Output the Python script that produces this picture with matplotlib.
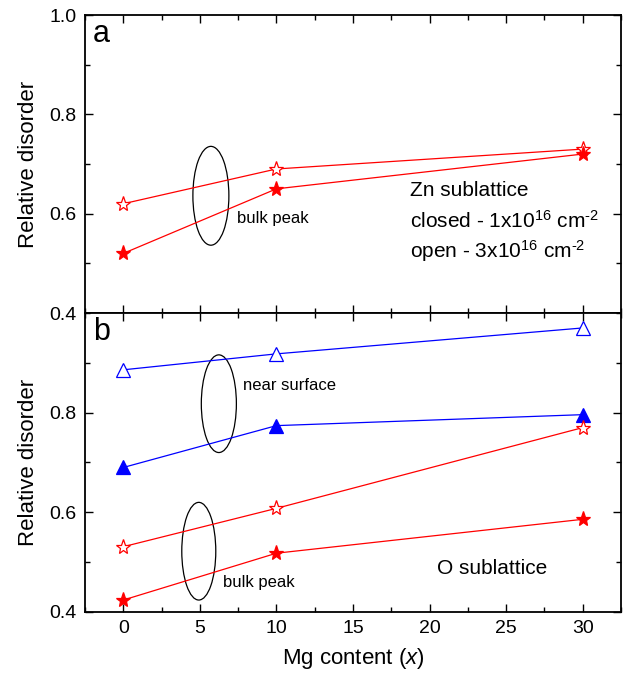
import matplotlib
matplotlib.use("Agg")
import matplotlib.pyplot as plt
from matplotlib.patches import Ellipse
from matplotlib.ticker import MultipleLocator

plt.rcParams["font.family"] = ["Liberation Sans", "DejaVu Sans"]
plt.rcParams["mathtext.fontset"] = "custom"
plt.rcParams["mathtext.rm"] = "Liberation Sans"
plt.rcParams["mathtext.it"] = "Liberation Sans:italic"

# Mg content
mg = [0, 10, 30]

# panel a: Zn sublattice, bulk peak
zn_closed = [0.52, 0.65, 0.72]
zn_open = [0.62, 0.69, 0.73]

# panel b: O sublattice
o_surf_open = [0.886, 0.918, 0.97]
o_surf_closed = [0.69, 0.774, 0.796]
o_bulk_open = [0.531, 0.608, 0.77]
o_bulk_closed = [0.424, 0.518, 0.586]

red = "#ff0000"
blue = "#0000ff"

fig = plt.figure(figsize=(6.27, 6.82), dpi=100)
L, R = 85 / 627, 621 / 627
ax_a = fig.add_axes([L, 1 - 313 / 682, R - L, (313 - 15) / 682])
ax_b = fig.add_axes([L, 1 - 612 / 682, R - L, (612 - 313) / 682])


def series(ax, y, color, marker, filled, ms):
    ax.plot(mg, y, color=color, linewidth=0.9, marker=marker, markersize=ms,
            markerfacecolor=color if filled else "white",
            markeredgecolor=color, markeredgewidth=0.9, zorder=3)


series(ax_a, zn_open, red, "*", False, 11)
series(ax_a, zn_closed, red, "*", True, 11)

series(ax_b, o_surf_open, blue, "^", False, 10)
series(ax_b, o_surf_closed, blue, "^", True, 10)
series(ax_b, o_bulk_open, red, "*", False, 11)
series(ax_b, o_bulk_closed, red, "*", True, 11)

for ax in (ax_a, ax_b):
    ax.set_xlim(-2.5, 32.5)
    ax.set_ylim(0.4, 1.0)
    ax.xaxis.set_major_locator(MultipleLocator(5))
    ax.xaxis.set_minor_locator(MultipleLocator(2.5))
    ax.yaxis.set_major_locator(MultipleLocator(0.2))
    ax.yaxis.set_minor_locator(MultipleLocator(0.1))
    ax.tick_params(which="both", direction="in", top=True, right=True,
                   width=1.0, labelsize=14, pad=6)
    ax.tick_params(which="major", length=6)
    ax.tick_params(which="minor", length=3.5)
    for sp in ax.spines.values():
        sp.set_linewidth(1.3)
    ax.set_ylabel("Relative disorder", fontsize=16)
    ax.yaxis.set_label_coords(-0.085, 0.5)

ax_a.tick_params(labelbottom=False)
ax_a.set_yticks([0.4, 0.6, 0.8, 1.0])
ax_b.set_yticks([0.4, 0.6, 0.8])
ax_b.set_xlabel("Mg content ($\\mathit{x}$)", fontsize=16, labelpad=6)

ax_a.text(0.015, 0.985, "a", transform=ax_a.transAxes, fontsize=22,
          ha="left", va="top")
ax_b.text(0.015, 0.985, "b", transform=ax_b.transAxes, fontsize=22,
          ha="left", va="top")

# annotations panel a
ax_a.add_patch(Ellipse((5.72, 0.636), 2.35, 0.199, fill=False,
                       edgecolor="black", linewidth=0.9))
ax_a.text(7.4, 0.591, "bulk peak", fontsize=12, va="center")
ax_a.text(18.75, 0.646, "Zn sublattice", fontsize=15, va="center")
ax_a.text(18.75, 0.586, "closed - 1x10$^{16}$ cm$^{\\text{-2}}$",
          fontsize=15, va="center")
ax_a.text(18.75, 0.524, "open - 3x10$^{16}$ cm$^{\\text{-2}}$",
          fontsize=15, va="center")

# annotations panel b
ax_b.add_patch(Ellipse((6.24, 0.818), 2.29, 0.196, fill=False,
                       edgecolor="black", linewidth=0.9))
ax_b.add_patch(Ellipse((4.93, 0.522), 2.22, 0.196, fill=False,
                       edgecolor="black", linewidth=0.9))
ax_b.text(7.8, 0.854, "near surface", fontsize=12, va="center")
ax_b.text(6.5, 0.46, "bulk peak", fontsize=12, va="center")
ax_b.text(20.5, 0.488, "O sublattice", fontsize=15, va="center")

fig.savefig("out.png", dpi=100)
